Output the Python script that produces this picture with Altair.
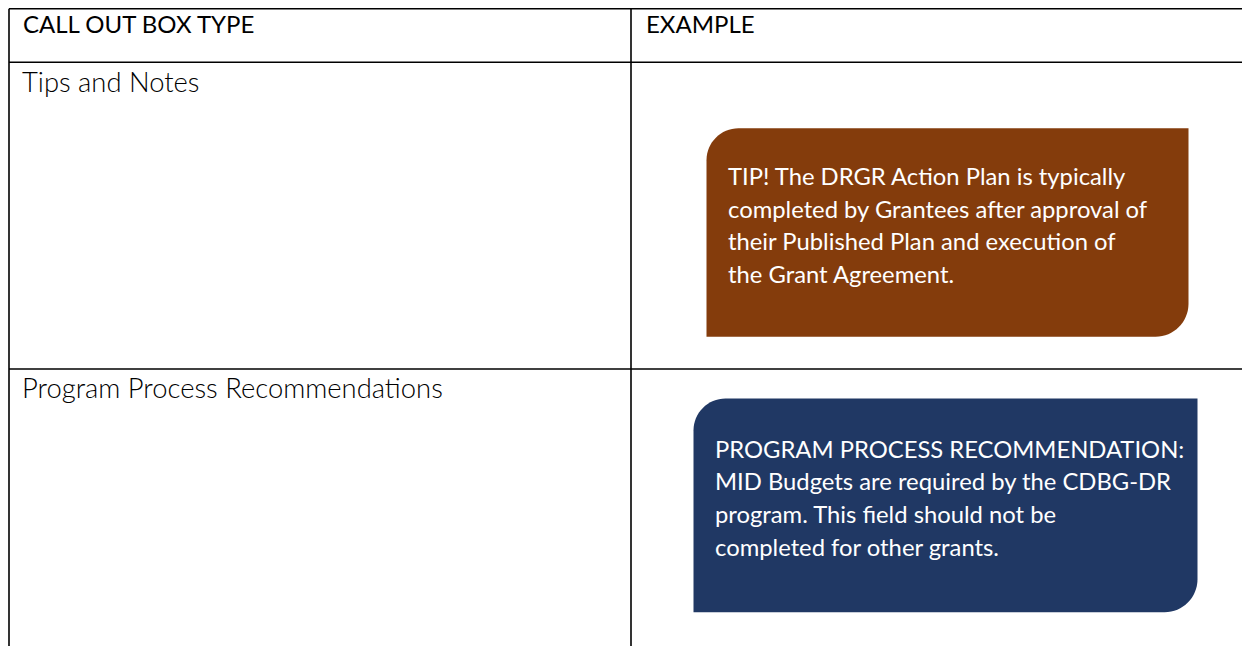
import altair as alt
import pandas as pd

# ---- content ----
headers = ["CALL OUT BOX TYPE", "EXAMPLE"]
row_labels = ["Tips and Notes", "Program Process Recommendations"]
tip_lines = [
    "TIP! The DRGR Action Plan is typically",
    "completed by Grantees after approval of",
    "their Published Plan and execution of",
    "the Grant Agreement.",
]
rec_lines = [
    "PROGRAM PROCESS RECOMMENDATION:",
    "MID Budgets are required by the CDBG-DR",
    "program. This field should not be",
    "completed for other grants.",
]
box_colors = ["#843C0C", "#203864"]

# ---- layout (page pixel units; chart kept inside the 1250x659 window) ----
X0, Y0 = 8, 8
XMAX, YMAX = 1242, 646
col_edges = [9, 631]
row_edges = [8.8, 62.3, 369]
boxes = [(706.5, 1188.5, 128.3, 336.7), (693.5, 1197.5, 398.5, 612.3)]
box_text_x = [728, 715]
box_first_base = [185, 457.5]
line_step = 32.7

grid = []
for y in row_edges:
    grid.append({"x": col_edges[0], "x2": XMAX, "y": y, "y2": y})
for x in col_edges:
    grid.append({"x": x, "x2": x, "y": row_edges[0], "y2": YMAX})
grid_df = pd.DataFrame(grid)

box_df = pd.DataFrame([
    {"x": b[0], "x2": b[1], "y": b[2], "y2": b[3], "color": c}
    for b, c in zip(boxes, box_colors)
])

head_df = pd.DataFrame([
    {"x": 23, "y": 32.7, "t": headers[0]},
    {"x": 646, "y": 32.7, "t": headers[1]},
])
label_df = pd.DataFrame([
    {"x": 22, "y": 91.7, "t": row_labels[0]},
    {"x": 22, "y": 397.7, "t": row_labels[1]},
])
btxt = []
for i, lines in enumerate([tip_lines, rec_lines]):
    for j, s in enumerate(lines):
        btxt.append({"x": box_text_x[i], "y": box_first_base[i] + j * line_step, "t": s})
btxt_df = pd.DataFrame(btxt)

xs = alt.Scale(domain=[X0, XMAX], nice=False, zero=False)
ys = alt.Scale(domain=[Y0, YMAX], nice=False, zero=False, reverse=True)

rules = alt.Chart(grid_df).mark_rule(color="#000000", strokeWidth=1.6).encode(
    x=alt.X("x:Q", scale=xs, axis=None),
    x2="x2:Q",
    y=alt.Y("y:Q", scale=ys, axis=None),
    y2="y2:Q",
)

rects = alt.Chart(box_df).mark_rect(
    cornerRadiusTopLeft=32, cornerRadiusBottomRight=33
).encode(
    x=alt.X("x:Q", scale=xs, axis=None),
    x2="x2:Q",
    y=alt.Y("y:Q", scale=ys, axis=None),
    y2="y2:Q",
    color=alt.Color("color:N", scale=None),
)

heads = alt.Chart(head_df).mark_text(
    align="left", baseline="alphabetic", font="Lato", fontSize=24, color="#000000"
).encode(
    x=alt.X("x:Q", scale=xs, axis=None),
    y=alt.Y("y:Q", scale=ys, axis=None),
    text="t:N",
)

labels = alt.Chart(label_df).mark_text(
    align="left", baseline="alphabetic", font="Lato", fontSize=27.4,
    fontWeight=300, color="#000000"
).encode(
    x=alt.X("x:Q", scale=xs, axis=None),
    y=alt.Y("y:Q", scale=ys, axis=None),
    text="t:N",
)

btexts = alt.Chart(btxt_df).mark_text(
    align="left", baseline="alphabetic", font="Lato", fontSize=23.8, color="#ffffff"
).encode(
    x=alt.X("x:Q", scale=xs, axis=None),
    y=alt.Y("y:Q", scale=ys, axis=None),
    text="t:N",
)

chart = alt.layer(rules, rects, heads, labels, btexts).properties(
    width=XMAX - X0, height=YMAX - Y0,
    autosize=alt.AutoSizeParams(type="none"),
    padding=0,
    background="#ffffff",
).configure_view(stroke=None)

chart.save("out.html", embed_options={"renderer": "svg", "actions": False})
